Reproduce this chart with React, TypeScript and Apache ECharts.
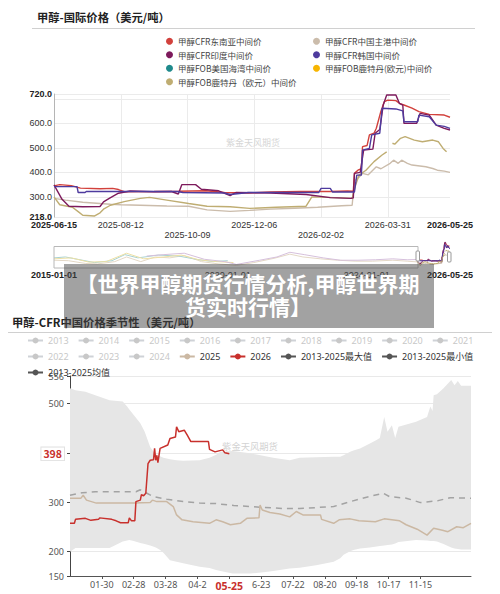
import React, { useEffect, useRef } from 'react';
import * as echarts from 'echarts';

// ---------- Top chart: international prices ----------
const INTL_NAMES = [
  '甲醇CFR东南亚中间价',
  '甲醇CFR中国主港中间价',
  '甲醇CFR印度中间价',
  '甲醇CFR韩国中间价',
  '甲醇FOB美国海湾中间价',
  '甲醇FOB鹿特丹(欧元)中间价',
  '甲醇FOB鹿特丹（欧元）中间价',
];
const INTL_COLORS = ['#d2413c', '#cbbcab', '#7d1a5c', '#4e3b9e', '#1f8a8c', '#f7b500', '#bfad72'];

const MAIN_START = '2025-06-15';
const MAIN_END = '2026-05-25';
const MAIN_TICK_LABELS = ['2025-06-15', '2025-08-12', '2025-10-09', '2025-12-06', '2026-02-02', '2026-03-31', '2026-05-25'];
const MAIN_LOW_LABELS = ['2025-10-09', '2026-02-02'];
const PREVIEW_START = '2015-01-01';
const PREVIEW_LABEL_DATES = ['2015-01-01', '2020-01-01', '2024-01-01', '2026-05-25'];

const SEA: [string, number | null][] = [
  ['2025-06-15', 345], ['2025-06-20', 350], ['2025-06-30', 346], ['2025-07-08', 336], ['2025-07-25', 333],
  ['2025-08-05', 335], ['2025-08-10', 330], ['2025-08-15', 321], ['2025-09-10', 322], ['2025-10-01', 323],
  ['2025-10-25', 325], ['2025-11-10', 318], ['2025-12-01', 316], ['2025-12-20', 320], ['2026-01-15', 322],
  ['2026-02-10', 322], ['2026-02-25', 324], ['2026-03-02', 323], ['2026-03-03', 396], ['2026-03-06', 409],
  ['2026-03-09', 415], ['2026-03-10', 505], ['2026-03-14', 510], ['2026-03-16', 553], ['2026-03-20', 560],
  ['2026-03-22', 580], ['2026-03-26', 650], ['2026-03-29', 689], ['2026-04-01', 695], ['2026-04-08', 693],
  ['2026-04-11', 682], ['2026-04-15', 675], ['2026-04-22', 662], ['2026-04-28', 648], ['2026-05-07', 637],
  ['2026-05-20', 634], ['2026-05-25', 625],
];
const CHINA: [string, number | null][] = [
  ['2025-06-15', 294], ['2025-06-25', 287], ['2025-07-10', 278], ['2025-08-03', 270], ['2025-08-12', 268],
  ['2025-08-29', 266], ['2025-09-21', 263], ['2025-10-10', 262], ['2025-10-26', 247], ['2025-11-15', 241],
  ['2025-12-02', 245], ['2025-12-20', 250], ['2026-01-10', 254], ['2026-01-30', 258], ['2026-02-20', 264],
  ['2026-03-01', 266], ['2026-03-03', 366], ['2026-03-07', 380], ['2026-03-10', 396], ['2026-03-15', 390],
  ['2026-03-22', 423], ['2026-03-26', 415], ['2026-04-03', 437], ['2026-04-06', 450], ['2026-04-10', 437],
  ['2026-04-13', 450], ['2026-04-18', 437], ['2026-04-22', 430], ['2026-05-04', 423], ['2026-05-10', 416],
  ['2026-05-14', 409], ['2026-05-20', 405], ['2026-05-25', 400],
];
const INDIA: [string, number | null][] = [
  ['2025-06-15', 349], ['2025-06-22', 290], ['2025-06-28', 262], ['2025-07-10', 260], ['2025-07-25', 261],
  ['2025-07-28', 280], ['2025-08-02', 294], ['2025-08-10', 315], ['2025-08-20', 324], ['2025-09-10', 321],
  ['2025-09-25', 322], ['2025-10-01', 312], ['2025-10-04', 350], ['2025-10-16', 350], ['2025-10-21', 331],
  ['2025-11-05', 325], ['2025-11-15', 305], ['2025-11-20', 318], ['2025-12-20', 316], ['2026-01-20', 310],
  ['2026-02-10', 297], ['2026-02-28', 294], ['2026-03-02', 296], ['2026-03-03', 396], ['2026-03-08', 400],
  ['2026-03-11', 491], ['2026-03-19', 495], ['2026-03-21', 560], ['2026-03-25', 575], ['2026-03-28', 675],
  ['2026-03-31', 716], ['2026-04-08', 716], ['2026-04-11', 682], ['2026-04-14', 675], ['2026-04-15', 600],
  ['2026-04-26', 600], ['2026-04-29', 641], ['2026-05-07', 634], ['2026-05-13', 593], ['2026-05-20', 580],
  ['2026-05-25', 573],
];
const KOREA: [string, number | null][] = [
  ['2025-06-15', 342], ['2025-07-05', 342], ['2025-07-06', 318], ['2025-07-12', 318], ['2025-07-13', 322],
  ['2025-09-30', 322], ['2025-10-05', 318], ['2025-11-10', 316], ['2025-11-15', 310], ['2025-12-01', 318],
  ['2026-01-31', 318], ['2026-02-02', 335], ['2026-02-10', 335], ['2026-02-12', 320], ['2026-03-03', 320],
  ['2026-03-05', 389], ['2026-03-09', 389], ['2026-03-10', 491], ['2026-03-16', 498], ['2026-03-18', 553],
  ['2026-03-25', 560], ['2026-03-27', 662], ['2026-04-08', 659], ['2026-04-14', 651], ['2026-04-15', 607],
  ['2026-04-27', 607], ['2026-04-28', 634], ['2026-05-07', 627], ['2026-05-13', 593], ['2026-05-20', 588],
  ['2026-05-25', 580],
];
const FOB_US: [string, number | null][] = [];
const FOB_ROT_Y: [string, number | null][] = [];
const FOB_ROT: [string, number | null][] = [
  ['2025-06-15', 300], ['2025-06-20', 268], ['2025-07-01', 258], ['2025-07-06', 240], ['2025-07-10', 225],
  ['2025-07-20', 222], ['2025-07-25', 235], ['2025-07-28', 250], ['2025-08-03', 266], ['2025-08-15', 281],
  ['2025-08-29', 294], ['2025-09-06', 298], ['2025-09-21', 287], ['2025-10-10', 273], ['2025-10-26', 262],
  ['2025-11-15', 260], ['2025-12-02', 253], ['2025-12-25', 258], ['2026-01-20', 262], ['2026-01-25', 300],
  ['2026-02-20', 296], ['2026-03-01', 294], ['2026-03-04', 348], ['2026-03-07', 389], ['2026-03-13', 409],
  ['2026-03-20', 444], ['2026-03-27', 471], ['2026-03-31', 484], ['2026-04-02', null], ['2026-04-05', 519],
  ['2026-04-07', 515], ['2026-04-12', 539], ['2026-04-16', 546], ['2026-04-24', 532], ['2026-05-01', 525],
  ['2026-05-10', 532], ['2026-05-15', 525], ['2026-05-19', 498], ['2026-05-22', 484],
];
const INTL_DATA = [SEA, CHINA, INDIA, KOREA, FOB_US, FOB_ROT_Y, FOB_ROT];

// history shown faintly in the range preview
const HIST_A: [string, number][] = [
  ['2015-01-01', 330], ['2015-06-01', 320], ['2015-12-01', 260], ['2016-04-01', 250], ['2016-10-01', 300],
  ['2017-02-01', 400], ['2017-07-01', 300], ['2017-12-01', 400], ['2018-05-01', 380], ['2018-10-01', 430],
  ['2019-04-01', 300], ['2019-10-01', 250], ['2020-04-01', 220], ['2020-10-01', 280], ['2021-05-01', 370],
  ['2021-10-15', 460], ['2022-03-01', 400], ['2022-09-01', 360], ['2023-03-01', 330], ['2023-09-01', 310],
  ['2024-03-01', 310], ['2024-10-01', 330], ['2025-03-01', 310], ['2025-06-15', 294],
];
const HIST_B: [string, number][] = [
  ['2015-01-01', 380], ['2015-05-01', 400], ['2015-10-01', 340], ['2016-03-01', 280], ['2016-09-01', 320],
  ['2017-01-15', 450], ['2017-06-01', 380], ['2018-01-01', 440], ['2018-08-01', 420], ['2019-02-01', 350],
  ['2019-08-01', 300], ['2020-01-01', 320],
];
const HIST_C: [string, number][] = [
  ['2015-01-01', 360], ['2015-07-01', 380], ['2016-01-01', 290], ['2016-07-01', 300], ['2017-02-01', 480],
  ['2017-08-01', 360], ['2018-03-01', 400], ['2018-09-01', 440], ['2019-03-01', 340], ['2019-09-01', 300],
  ['2020-03-01', 280],
];
const HIST_D: [string, number][] = [
  ['2017-09-01', 420], ['2018-03-01', 450], ['2018-10-01', 480], ['2019-05-01', 350], ['2019-12-01', 300],
  ['2020-04-01', 240], ['2020-12-01', 330], ['2021-06-01', 400], ['2021-10-15', 500], ['2022-03-15', 450],
  ['2022-10-01', 380], ['2023-04-01', 330], ['2023-10-01', 330], ['2024-04-01', 340], ['2024-10-01', 360],
  ['2025-03-01', 340], ['2025-06-15', 345],
];
const HIST_SETS = [HIST_A, HIST_B, HIST_C, HIST_D];
const HIST_COLORS = ['#e4d8c6', '#a9d2d2', '#eee0a4', '#d6c0dc'];

// ---------- Bottom chart: seasonality ----------
const MONTH_LENGTHS = [31, 29, 31, 30, 31, 30, 31, 31, 30, 31, 30, 31];
const SEASON_TICK_DAYS = ['01-30', '02-28', '03-28', '04-26', '05-25', '06-23', '07-22', '08-20', '09-18', '10-17', '11-15'];
const SEASON_TICK_LABELS = ['01-30', '02-28', '03-28', '04-2', '05-25', '6-23', '07-22', '08-20', '09-18', '10-17', '11-15'];
const CURRENT_DAY = '05-25';
const HIDDEN_YEARS = ['2013', '2014', '2015', '2016', '2017', '2018', '2019', '2020', '2021', '2022', '2023', '2024'];
const NAME_MAX = '2013-2025最大值';
const NAME_MIN = '2013-2025最小值';
const NAME_MEAN = '2013-2025均值';
const LAST_2026 = 398;

const Y2026: [string, number][] = [
  ['01-01', 257], ['01-05', 257], ['01-06', 265], ['01-15', 267], ['01-20', 263], ['01-27', 265], ['01-28', 268],
  ['02-08', 265], ['02-12', 262], ['02-16', 258], ['02-23', 258], ['02-24', 268], ['02-26', 262], ['02-29', 262],
  ['03-01', 301], ['03-05', 304], ['03-06', 315], ['03-08', 313], ['03-10', 318], ['03-12', 378], ['03-14', 385],
  ['03-17', 386], ['03-18', 409], ['03-19', 385], ['03-20', 395], ['03-21', 380], ['03-22', 395], ['03-23', 409],
  ['03-30', 416], ['04-01', 429], ['04-06', 432], ['04-07', 453], ['04-09', 443], ['04-14', 446], ['04-17', 435],
  ['04-20', 423], ['05-06', 423], ['05-07', 407], ['05-12', 402], ['05-19', 406], ['05-21', 400], ['05-25', 398],
];
const Y2025: [string, number][] = [
  ['01-01', 308], ['01-11', 308], ['01-13', 314], ['01-16', 304], ['01-25', 298], ['02-28', 298], ['03-14', 299],
  ['03-16', 304], ['03-20', 301], ['03-29', 301], ['04-04', 291], ['04-07', 274], ['04-12', 264], ['04-22', 260],
  ['05-07', 257], ['05-13', 264], ['05-19', 260], ['05-26', 254], ['06-04', 257], ['06-10', 267], ['06-21', 268],
  ['06-22', 294], ['06-24', 284], ['07-01', 279], ['07-10', 276], ['07-19', 270], ['07-25', 281], ['07-31', 274],
  ['08-16', 274], ['08-17', 265], ['08-28', 257], ['09-02', 264], ['09-12', 266], ['09-20', 262], ['10-05', 260],
  ['10-13', 266], ['10-27', 262], ['11-02', 254], ['11-12', 245], ['11-21', 233], ['11-27', 247], ['12-05', 243],
  ['12-10', 240], ['12-18', 250], ['12-24', 248], ['12-31', 257],
];
const MEAN: [string, number][] = [
  ['01-01', 314], ['01-12', 319], ['01-24', 321], ['03-01', 321], ['03-05', 325], ['03-11', 318], ['03-17', 311],
  ['03-29', 306], ['04-13', 301], ['04-28', 298], ['05-13', 297], ['05-29', 293], ['06-13', 291], ['07-13', 287],
  ['07-28', 287], ['08-28', 291], ['09-12', 301], ['09-27', 310], ['10-12', 318], ['10-18', 311], ['11-02', 308],
  ['11-15', 299], ['12-01', 303], ['12-12', 309], ['12-31', 308],
];
const BAND_DAYS = [
  '01-01', '01-06', '01-15', '02-06', '02-18', '02-22', '02-24', '02-28', '03-05', '03-09', '03-14', '03-18',
  '03-20', '03-23', '03-26', '04-01', '04-07', '04-13', '04-28', '05-07', '05-13', '05-17', '05-28', '06-13',
  '06-27', '07-04', '07-16', '07-19', '07-28', '08-12', '08-28', '09-03', '09-06', '09-12', '09-15', '09-21',
  '09-30', '10-06', '10-09', '10-13', '10-16', '10-20', '10-23', '10-26', '11-11', '11-21', '11-24', '11-26',
  '11-27', '11-30', '12-06', '12-13', '12-16', '12-19', '12-22', '12-31',
];
const BAND_MAX = [
  531, 527, 524, 507, 504, 494, 488, 477, 460, 443, 412, 399,
  396, 393, 390, 387, 385, 384, 385, 390, 396, 402, 404, 399,
  393, 390, 386, 385, 390, 391, 392, 392, 395, 402, 405, 409,
  419, 426, 430, 473, 443, 456, 430, 453, 463, 473, 494, 485,
  517, 519, 531, 548, 537, 546, 536, 536,
];
const BAND_MIN = [
  199, 207, 207, 207, 220, 222, 223, 221, 217, 215, 212, 209,
  207, 203, 197, 182, 179, 176, 169, 166, 162, 160, 155, 155,
  158, 160, 164, 165, 167, 172, 179, 186, 193, 200, 203, 206,
  208, 210, 211, 212, 213, 214, 216, 219, 223, 222, 221, 221,
  221, 220, 215, 208, 206, 205, 204, 204,
];

// ---------- helpers ----------
const MS_DAY = 86400000;
const toDay = (d: string, base: string) =>
  Math.round((Date.parse(d + 'T00:00:00Z') - Date.parse(base + 'T00:00:00Z')) / MS_DAY);
const fromDay = (n: number, base: string) =>
  new Date(Date.parse(base + 'T00:00:00Z') + n * MS_DAY).toISOString().slice(0, 10);
const pad = (n: number) => (n < 10 ? '0' + n : '' + n);

const SEASON_DAYS: string[] = [];
MONTH_LENGTHS.forEach((len, m) => {
  for (let d = 1; d <= len; d++) SEASON_DAYS.push(pad(m + 1) + '-' + pad(d));
});
const sIdx = (mmdd: string) => SEASON_DAYS.indexOf(mmdd);

const SANS = "'Noto Sans CJK SC', 'Noto Sans', sans-serif";
const ARIAL = "'Liberation Sans', 'Noto Sans CJK SC', sans-serif";
const RED = '#c8302c';
const MAIN_INTERVAL = 58;

function buildOption(): any {
  const mainMax = toDay(MAIN_END, MAIN_START);
  const prevMax = toDay(MAIN_END, PREVIEW_START);

  const mainSeries = INTL_NAMES.map((name, i) => ({
    name,
    type: 'line',
    xAxisIndex: 0,
    yAxisIndex: 0,
    symbol: 'none',
    connectNulls: false,
    itemStyle: { color: INTL_COLORS[i] },
    lineStyle: { color: INTL_COLORS[i], width: 1.4 },
    data: INTL_DATA[i].map(([d, v]) => [toDay(d, MAIN_START), v]),
    z: i === 1 || i === 6 ? 2 : 3,
  }));

  const previewHist = HIST_SETS.map((set, i) => ({
    name: '_hist' + i,
    type: 'line',
    xAxisIndex: 1,
    yAxisIndex: 1,
    symbol: 'none',
    silent: true,
    lineStyle: { color: HIST_COLORS[i], width: 1 },
    data: set.map(([d, v]) => [toDay(d, PREVIEW_START), v]),
  }));
  const previewSel = INTL_DATA.map((set, i) => ({
    name: '_sel' + i,
    type: 'line',
    xAxisIndex: 1,
    yAxisIndex: 1,
    symbol: 'none',
    silent: true,
    lineStyle: { color: INTL_COLORS[i], width: 1 },
    data: set.map(([d, v]) => [toDay(d, PREVIEW_START), v]),
  }));

  const hiddenSeries = HIDDEN_YEARS.map((y) => ({
    name: y,
    type: 'line',
    xAxisIndex: 2,
    yAxisIndex: 2,
    symbol: 'none',
    itemStyle: { color: '#999' },
    lineStyle: { color: '#999', width: 1.5 },
    data: [],
  }));

  const seasonSeries = [
    {
      name: NAME_MIN,
      type: 'line',
      xAxisIndex: 2,
      yAxisIndex: 2,
      stack: 'band',
      symbol: 'none',
      silent: true,
      itemStyle: { color: '#555' },
      lineStyle: { color: '#555', width: 0 },
      data: BAND_DAYS.map((d, i) => [sIdx(d), BAND_MIN[i]]),
      z: 1,
    },
    {
      name: NAME_MAX,
      type: 'line',
      xAxisIndex: 2,
      yAxisIndex: 2,
      stack: 'band',
      symbol: 'none',
      silent: true,
      itemStyle: { color: '#555' },
      lineStyle: { color: '#555', width: 0 },
      areaStyle: { color: '#e6e6e6', opacity: 1 },
      data: BAND_DAYS.map((d, i) => [sIdx(d), BAND_MAX[i] - BAND_MIN[i]]),
      z: 1,
    },
    {
      name: NAME_MEAN,
      type: 'line',
      xAxisIndex: 2,
      yAxisIndex: 2,
      symbol: 'none',
      itemStyle: { color: '#555' },
      lineStyle: { color: '#a3a3a3', width: 1.5, type: [6, 5] },
      data: MEAN.map(([d, v]) => [sIdx(d), v]),
      z: 3,
    },
    {
      name: '2025',
      type: 'line',
      xAxisIndex: 2,
      yAxisIndex: 2,
      symbol: 'none',
      itemStyle: { color: '#cbb8a3' },
      lineStyle: { color: '#cbb8a3', width: 1.5 },
      data: Y2025.map(([d, v]) => [sIdx(d), v]),
      z: 4,
    },
    {
      name: '2026',
      type: 'line',
      xAxisIndex: 2,
      yAxisIndex: 2,
      symbol: 'none',
      itemStyle: { color: RED },
      lineStyle: { color: RED, width: 1.5 },
      data: Y2026.map(([d, v]) => [sIdx(d), v]),
      z: 5,
      markLine: {
        silent: true,
        symbol: ['none', 'none'],
        animation: false,
        lineStyle: { color: 'rgba(255,255,255,0)', width: 1, type: 'solid' },
        label: {
          show: true,
          position: 'start',
          distance: 6,
          formatter: String(LAST_2026),
          color: RED,
          fontWeight: 'bold',
          fontSize: 10.5,
          fontFamily: SANS,
          backgroundColor: '#fff',
          borderColor: '#e2e2e2',
          borderWidth: 1,
          padding: [1, 2],
        },
        data: [{ yAxis: LAST_2026 }],
      },
    },
  ];

  const topLegendBase = {
    orient: 'vertical',
    icon: 'circle',
    itemWidth: 7,
    itemHeight: 7,
    itemGap: 5,
    padding: 0,
    selectedMode: false,
    textStyle: { fontSize: 8.5, color: '#444', fontFamily: SANS },
  };
  const seasonLegendBase = {
    orient: 'horizontal',
    itemWidth: 15,
    itemHeight: 7.5,
    itemGap: 9,
    padding: 0,
    inactiveColor: '#c8c8c8',
    lineStyle: { width: 2 },
    textStyle: { fontSize: 9, color: '#333', fontFamily: "'Noto Sans', 'Noto Sans CJK SC', sans-serif" },
  };
  const hiddenSel: Record<string, boolean> = {};
  HIDDEN_YEARS.forEach((y) => (hiddenSel[y] = false));

  const tickSet = (val: string) => SEASON_TICK_DAYS.indexOf(val) >= 0;

  return {
    animation: false,
    backgroundColor: '#fff',
    grid: [
      { left: 54, top: 94, width: 396, height: 123 },
      { left: 54, top: 242, width: 396, height: 25 },
      { left: 70, top: 376, width: 401, height: 200 },
    ],
    legend: [
      { ...topLegendBase, left: 166, top: 37, data: [INTL_NAMES[0], INTL_NAMES[2], INTL_NAMES[4], INTL_NAMES[6]] },
      { ...topLegendBase, left: 313, top: 37, data: [INTL_NAMES[1], INTL_NAMES[3], INTL_NAMES[5]] },
      {
        ...seasonLegendBase,
        left: 27,
        top: 336,
        selected: hiddenSel,
        data: ['2013', '2014', '2015', '2016', '2017', '2018', '2019', '2020', '2021'],
      },
      {
        ...seasonLegendBase,
        left: 27,
        top: 352,
        selected: hiddenSel,
        data: ['2022', '2023', '2024', '2025', '2026', NAME_MAX, NAME_MIN],
      },
      {
        ...seasonLegendBase,
        left: 27,
        top: 368,
        data: [{ name: NAME_MEAN, lineStyle: { color: '#555', type: 'solid', width: 2 } }],
      },
    ],
    xAxis: [
      {
        type: 'value',
        gridIndex: 0,
        min: 0,
        max: mainMax,
        interval: MAIN_INTERVAL,
        axisLine: { show: false },
        axisTick: { show: false },
        splitLine: { show: true, showMinLine: false, showMaxLine: false, lineStyle: { color: '#ebebeb' } },
        axisLabel: {
          fontSize: 9,
          color: '#333',
          fontFamily: ARIAL,
          margin: 3,
          lineHeight: 10,
          formatter: (v: number) => {
            const k = v === mainMax ? MAIN_TICK_LABELS.length - 1 : Math.round(v / MAIN_INTERVAL);
            const s = MAIN_TICK_LABELS[k] || fromDay(v, MAIN_START);
            if (v === 0 || v === mainMax) return '{b|' + s + '}';
            if (MAIN_LOW_LABELS.indexOf(s) >= 0) return '\n' + s;
            return s;
          },
          rich: { b: { fontWeight: 'bold', fontSize: 9, color: '#222', fontFamily: ARIAL, lineHeight: 10 } },
        },
      },
      {
        type: 'value',
        gridIndex: 1,
        min: 0,
        max: prevMax,
        axisLine: { show: false },
        axisTick: { show: false },
        splitLine: { show: false },
        axisLabel: {
          customValues: PREVIEW_LABEL_DATES.map((d) => toDay(d, PREVIEW_START)),
          fontSize: 9,
          color: '#333',
          fontFamily: ARIAL,
          margin: 3,
          formatter: (v: number) => {
            const s = fromDay(v, PREVIEW_START);
            if (v === 0 || v === prevMax) return '{b|' + s + '}';
            return s;
          },
          rich: { b: { fontWeight: 'bold', fontSize: 9, color: '#222', fontFamily: ARIAL } },
        },
      },
      {
        type: 'category',
        gridIndex: 2,
        data: SEASON_DAYS,
        boundaryGap: false,
        axisLine: { show: true, lineStyle: { color: '#555' } },
        axisTick: { show: true, length: 3, interval: (_i: number, v: string) => tickSet(v), lineStyle: { color: '#555' } },
        splitLine: { show: false },
        axisLabel: {
          interval: (_i: number, v: string) => tickSet(v),
          fontSize: 9,
          color: '#555',
          margin: 4,
          fontFamily: "'Noto Sans', sans-serif",
          formatter: (v: string) => {
            const k = SEASON_TICK_DAYS.indexOf(v);
            const t = k >= 0 ? SEASON_TICK_LABELS[k] : v;
            return v === CURRENT_DAY ? '{hl|' + t + '}' : t;
          },
          rich: { hl: { color: RED, fontWeight: 'bold', fontSize: 10.5, fontFamily: "'Noto Sans', sans-serif" } },
        },
      },
    ],
    yAxis: [
      {
        type: 'value',
        gridIndex: 0,
        min: 218,
        max: 720,
        splitNumber: 5,
        axisLine: { show: true, lineStyle: { color: '#b5b5b5' } },
        axisTick: { show: false },
        splitLine: { show: true, lineStyle: { color: '#ebebeb' } },
        axisLabel: {
          fontSize: 9,
          color: '#333',
          fontFamily: ARIAL,
          margin: 2,
          formatter: (v: number) => {
            if (v === 700) return '';
            const s = v.toFixed(1);
            return v === 218 || v === 720 ? '{b|' + s + '}' : s;
          },
          rich: { b: { fontWeight: 'bold', fontSize: 9, color: '#222', fontFamily: ARIAL } },
        },
      },
      {
        type: 'value',
        gridIndex: 1,
        min: 185,
        max: 720,
        show: false,
        splitLine: { show: false },
      },
      {
        type: 'value',
        gridIndex: 2,
        min: 150,
        max: 556,
        splitNumber: 5,
        axisLine: { show: true, lineStyle: { color: '#444' } },
        axisTick: { show: true, length: 3, lineStyle: { color: '#444' } },
        splitLine: { show: true, lineStyle: { color: '#e9e9e9' } },
        axisLabel: {
          fontSize: 9,
          color: '#555',
          margin: 6,
          fontFamily: "'Noto Sans', sans-serif",
          formatter: (v: number) => (v === 400 ? '' : String(v)),
        },
      },
    ],
    series: [...mainSeries, ...previewHist, ...previewSel, ...hiddenSeries, ...seasonSeries],
    graphic: {
      elements: [
        {
          type: 'text',
          x: 37,
          y: 17,
          z: 10,
          style: {
            text: '甲醇-国际价格（美元/吨）',
            fontSize: 11.3,
            fontWeight: 'bold',
            fontFamily: SANS,
            fill: '#222',
            verticalAlign: 'middle',
          },
        },
        { type: 'line', z: 10, shape: { x1: 32, y1: 28.5, x2: 475, y2: 28.5 }, style: { stroke: '#d0d0d0', lineWidth: 1 } },
        {
          type: 'text',
          x: 253,
          y: 142,
          z: 1,
          style: { text: '紫金天风期货', fontSize: 9, fontFamily: SANS, fill: '#d6d6d6', align: 'center', verticalAlign: 'middle' },
        },
        {
          type: 'rect',
          z: 10,
          shape: { x: 54, y: 246.5, width: 364, height: 21.5 },
          style: { fill: 'none', stroke: '#b8b8b8', lineWidth: 1 },
        },
        {
          type: 'rect',
          z: 11,
          shape: { x: 416, y: 251, width: 3.5, height: 10, r: 1 },
          style: { fill: '#fff', stroke: '#999', lineWidth: 1 },
        },
        {
          type: 'rect',
          z: 11,
          shape: { x: 447.5, y: 252, width: 3.5, height: 10, r: 1 },
          style: { fill: '#fff', stroke: '#999', lineWidth: 1 },
        },
        {
          type: 'text',
          x: 12,
          y: 321.5,
          z: 10,
          style: {
            text: '甲醇-CFR中国价格季节性（美元/吨）',
            fontSize: 11.3,
            fontWeight: 'bold',
            fontFamily: SANS,
            fill: '#222',
            verticalAlign: 'middle',
          },
        },
        { type: 'line', z: 10, shape: { x1: 8, y1: 332.5, x2: 492, y2: 332.5 }, style: { stroke: '#d0d0d0', lineWidth: 1 } },
        {
          type: 'text',
          x: 250,
          y: 446,
          z: 1,
          style: { text: '紫金天风期货', fontSize: 9.3, fontFamily: SANS, fill: '#d3d3d3', align: 'center', verticalAlign: 'middle' },
        },
        {
          type: 'rect',
          z: 100,
          shape: { x: 64, y: 264, width: 370, height: 64 },
          style: { fill: 'rgba(70,70,70,0.5)' },
        },
        {
          type: 'text',
          x: 248,
          y: 294.5,
          z: 101,
          style: {
            text: '【世界甲醇期货行情分析,甲醇世界期\n货实时行情】',
            fontSize: 21,
            fontWeight: 'bold',
            fontFamily: SANS,
            fill: '#fff',
            align: 'center',
            verticalAlign: 'middle',
            lineHeight: 23,
          },
        },
      ],
    },
  };
}

export default function App() {
  const ref = useRef<HTMLDivElement>(null);
  useEffect(() => {
    if (!ref.current) return;
    const chart = echarts.init(ref.current, null, { renderer: 'svg' });
    chart.setOption(buildOption());
    return () => chart.dispose();
  }, []);
  return (
    <div
      ref={ref}
      style={{ position: 'absolute', left: 0, top: 0, width: 500, height: 594, background: '#fff' }}
    />
  );
}
